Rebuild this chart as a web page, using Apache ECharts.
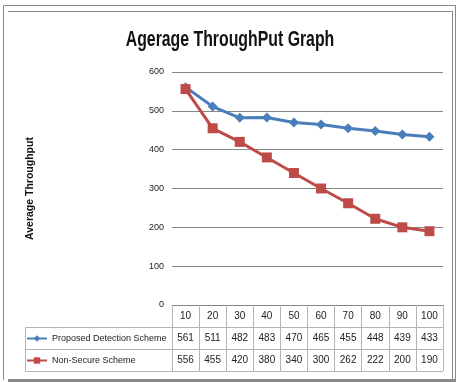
<!DOCTYPE html>
<html>
<head>
<meta charset="utf-8">
<script src="https://cdn.jsdelivr.net/npm/echarts@6/dist/echarts.min.js"></script>
<style>
  html, body { margin: 0; padding: 0; background: #fff; }
  #main { width: 459px; height: 382px; }
</style>
</head>
<body>
<div id="main"></div>
<script>
// data
const categories = ['10', '20', '30', '40', '50', '60', '70', '80', '90', '100'];
const proposed = [561, 511, 482, 483, 470, 465, 455, 448, 439, 433];
const nonSecure = [556, 455, 420, 380, 340, 300, 262, 222, 200, 190];
const seriesNames = ['Proposed Detection Scheme', 'Non-Secure Scheme'];
const chartTitle = 'Agerage ThroughPut Graph';

const font = '"Liberation Sans", Arial, sans-serif';
const border = '#b4b4b4';

const chart = echarts.init(document.getElementById('main'));

// one category axis per table row, pushed down under the plot
function tableAxis(labels, offset) {
  return {
    type: 'category',
    data: labels,
    position: 'bottom',
    offset: offset,
    axisLine: { show: true, lineStyle: { color: border, width: 1 } },
    axisTick: { show: true, length: 22, lineStyle: { color: border, width: 1 } },
    axisLabel: { margin: 6, fontSize: 10, color: '#222', fontFamily: font, interval: 0 },
    splitLine: { show: false }
  };
}

const option = {
  animation: false,
  backgroundColor: '#fff',
  legend: {
    orient: 'vertical',
    left: 26,
    top: 334,
    padding: 0,
    itemWidth: 20,
    itemHeight: 8,
    itemGap: 13,
    textStyle: { fontSize: 9, color: '#222', fontFamily: font },
    data: seriesNames
  },
  grid: { left: 172, right: 16, top: 72, bottom: 77, containLabel: false, outerBoundsMode: 'none' },
  xAxis: [
    {
      type: 'category',
      data: categories,
      boundaryGap: true,
      axisLine: { show: true, lineStyle: { color: '#868686', width: 1 } },
      axisTick: { show: true, length: 22, lineStyle: { color: border, width: 1 } },
      axisLabel: { margin: 6, fontSize: 10, color: '#222', fontFamily: font, interval: 0 }
    },
    tableAxis(proposed.map(String), 22),
    tableAxis(nonSecure.map(String), 44)
  ],
  yAxis: {
    type: 'value',
    min: 0,
    max: 600,
    interval: 100,
    name: 'Average Throughput',
    nameLocation: 'middle',
    nameRotate: 90,
    nameGap: 136,
    nameTextStyle: { fontSize: 10.5, fontWeight: 'bold', color: '#111', fontFamily: font },
    axisLine: { show: false },
    axisTick: { show: false },
    axisLabel: { margin: 8, fontSize: 9, color: '#222', fontFamily: font },
    splitLine: { lineStyle: { color: '#868686', width: 1 } }
  },
  series: [
    {
      name: seriesNames[0],
      type: 'line',
      xAxisIndex: 0,
      data: proposed,
      symbol: 'diamond',
      symbolSize: 10,
      itemStyle: { color: '#4a7ebb' },
      lineStyle: { color: '#4a7ebb', width: 3 }
    },
    {
      name: seriesNames[1],
      type: 'line',
      xAxisIndex: 0,
      data: nonSecure,
      symbol: 'rect',
      symbolSize: 10,
      itemStyle: { color: '#be4b48' },
      lineStyle: { color: '#be4b48', width: 3 }
    }
  ],
  graphic: [
    // title, squeezed to look like the narrow bold face of the original
    {
      type: 'text', x: 230, y: 40, scaleX: 0.72,
      style: {
        text: chartTitle, fill: '#111', font: 'bold 22px ' + font,
        align: 'center', verticalAlign: 'middle'
      }
    },
    // frame of the picture
    { type: 'line', shape: { x1: 3.5, y1: 5.5, x2: 455, y2: 5.5 }, style: { stroke: '#8a8a8a', lineWidth: 1 } },
    { type: 'line', shape: { x1: 3.5, y1: 5.5, x2: 3.5, y2: 380 }, style: { stroke: '#8a8a8a', lineWidth: 1 } },
    { type: 'line', shape: { x1: 8, y1: 11.5, x2: 452, y2: 11.5 }, style: { stroke: '#8a8a8a', lineWidth: 1 } },
    { type: 'line', shape: { x1: 452.5, y1: 11, x2: 452.5, y2: 379 }, style: { stroke: '#8a8a8a', lineWidth: 1 } },
    { type: 'line', shape: { x1: 455.5, y1: 5, x2: 455.5, y2: 382 }, style: { stroke: '#8a8a8a', lineWidth: 1 } },
    { type: 'rect', shape: { x: 8, y: 379, width: 448, height: 3 }, style: { fill: '#8a8a8a' } },
    // legend cells of the data table
    { type: 'line', shape: { x1: 25.5, y1: 327.5, x2: 172, y2: 327.5 }, style: { stroke: border, lineWidth: 1 } },
    { type: 'line', shape: { x1: 25.5, y1: 349.5, x2: 172, y2: 349.5 }, style: { stroke: border, lineWidth: 1 } },
    { type: 'line', shape: { x1: 25.5, y1: 371.5, x2: 443, y2: 371.5 }, style: { stroke: border, lineWidth: 1 } },
    { type: 'line', shape: { x1: 25.5, y1: 327.5, x2: 25.5, y2: 371.5 }, style: { stroke: border, lineWidth: 1 } }
  ]
};

chart.setOption(option);
</script>
</body>
</html>
